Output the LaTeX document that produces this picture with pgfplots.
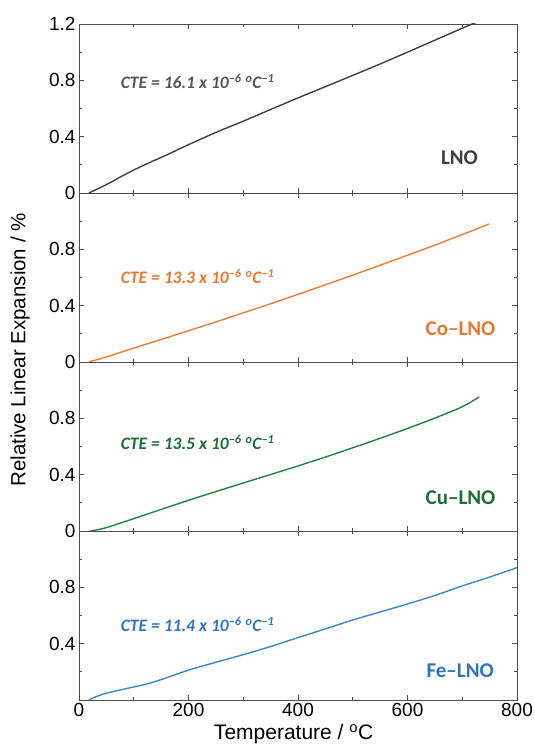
\documentclass[border=0pt]{standalone}
\usepackage{fontspec}
\setmainfont{Liberation Sans}
\newfontfamily\carlito{Carlito}
\usepackage{pgfplots}
\pgfplotsset{compat=1.18}
\definecolor{cLNO}{HTML}{3F3F3F}
\definecolor{tLNO}{HTML}{555555}
\definecolor{cCo}{HTML}{ED7D31}
\definecolor{tCo}{HTML}{E8782C}
\definecolor{cCu}{HTML}{23813F}
\definecolor{tCu}{HTML}{1D6E36}
\definecolor{cFe}{HTML}{3D85CC}
\definecolor{tFe}{HTML}{2E75C0}
\pgfplotsset{panel/.style={
  scale only axis, width=438pt, height=169pt,
  xmin=0, xmax=800, ymin=0, ymax=1.2,
  xtick={0,200,400,600,800}, minor x tick num=1,
  ytick={0,0.4,0.8,1.2}, minor y tick num=1,
  tick align=inside, major tick length=5pt, minor tick length=3pt,
  axis line style={black!70, line width=0.9pt},
  tick style={black!70, line width=0.8pt},
  tick label style={font=\fontsize{19}{19}\selectfont},
  /pgf/number format/assume math mode=true,
  xticklabels={},
  every axis plot/.append style={line width=1.4pt, mark=none, smooth, tension=0.5},
}}
\newcommand{\cte}[1]{\carlito\bfseries\itshape\fontsize{17.5}{17.5}\selectfont CTE = #1 x 10\textsuperscript{–6} \textsuperscript{o}C\textsuperscript{–1}}
\newcommand{\lab}{\carlito\bfseries\fontsize{21}{21}\selectfont}
\begin{document}
\begin{tikzpicture}
\path[use as bounding box] (-79pt,-45pt) rectangle (456pt,700pt);
% Panel 1: LNO
\begin{axis}[panel, at={(0,507pt)}, anchor=south west, yticklabels={0,0.4,0.8,1.2}]
\addplot[cLNO] coordinates {(18,0) (40,0.04) (60,0.08) (80,0.123) (100,0.163) (130,0.218) (160,0.27) (200,0.343) (250,0.43) (300,0.51) (350,0.593) (400,0.675) (450,0.755) (500,0.835) (550,0.916) (600,1.0) (650,1.085) (700,1.17) (718,1.2) (740,1.235)};
\node[anchor=west, inner sep=0, text=tLNO] at (axis cs:76,0.79) {\cte{16.1}};
\node[anchor=east, inner sep=0, text=cLNO] at (axis cs:729,0.254) {\lab LNO};
\end{axis}
% Panel 2: Co-LNO
\begin{axis}[panel, at={(0,338pt)}, anchor=south west, yticklabels={0,0.4,0.8,}]
\addplot[cCo] coordinates {(18,0) (50,0.036) (100,0.099) (150,0.16) (200,0.222) (250,0.285) (300,0.349) (350,0.414) (400,0.48) (450,0.548) (500,0.617) (550,0.687) (600,0.758) (650,0.83) (700,0.905) (730,0.95) (749,0.98)};
\node[anchor=west, inner sep=0, text=tCo] at (axis cs:76,0.61) {\cte{13.3}};
\node[anchor=east, inner sep=0, text=tCo] at (axis cs:761,0.238) {\lab Co–LNO};
\end{axis}
% Panel 3: Cu-LNO
\begin{axis}[panel, at={(0,169pt)}, anchor=south west, yticklabels={0,0.4,0.8,}]
\addplot[cCu] coordinates {(21,0) (50,0.024) (100,0.088) (150,0.153) (200,0.218) (250,0.28) (300,0.341) (350,0.401) (400,0.462) (450,0.525) (500,0.591) (550,0.658) (600,0.728) (650,0.802) (700,0.882) (731,0.952)};
\node[anchor=west, inner sep=0, text=tCu] at (axis cs:76,0.63) {\cte{13.5}};
\node[anchor=east, inner sep=0, text=tCu] at (axis cs:761,0.238) {\lab Cu–LNO};
\end{axis}
% Panel 4: Fe-LNO
\begin{axis}[panel, at={(0,0)}, anchor=south west, yticklabels={,0.4,0.8,},
  xticklabels={0,200,400,600,800},
  xlabel={Temperature / \textsuperscript{o}C},
  xlabel style={font=\fontsize{21}{21}\selectfont, at={(axis description cs:0.49,0)}, anchor=north, inner sep=0pt, yshift=-24pt}]
\addplot[cFe] coordinates {(18,0) (30,0.022) (50,0.048) (85,0.08) (120,0.11) (150,0.145) (200,0.212) (250,0.268) (300,0.322) (350,0.38) (400,0.443) (450,0.505) (500,0.568) (550,0.625) (600,0.682) (650,0.742) (700,0.81) (750,0.873) (800,0.94)};
\node[anchor=west, inner sep=0, text=tFe] at (axis cs:76,0.535) {\cte{11.4}};
\node[anchor=east, inner sep=0, text=tFe] at (axis cs:758,0.21) {\lab Fe–LNO};
\end{axis}
\node[rotate=90, inner sep=0, font=\fontsize{20.5}{20.5}\selectfont] at (-59pt,350pt) {Relative Linear Expansion / \%};
\end{tikzpicture}
\end{document}
